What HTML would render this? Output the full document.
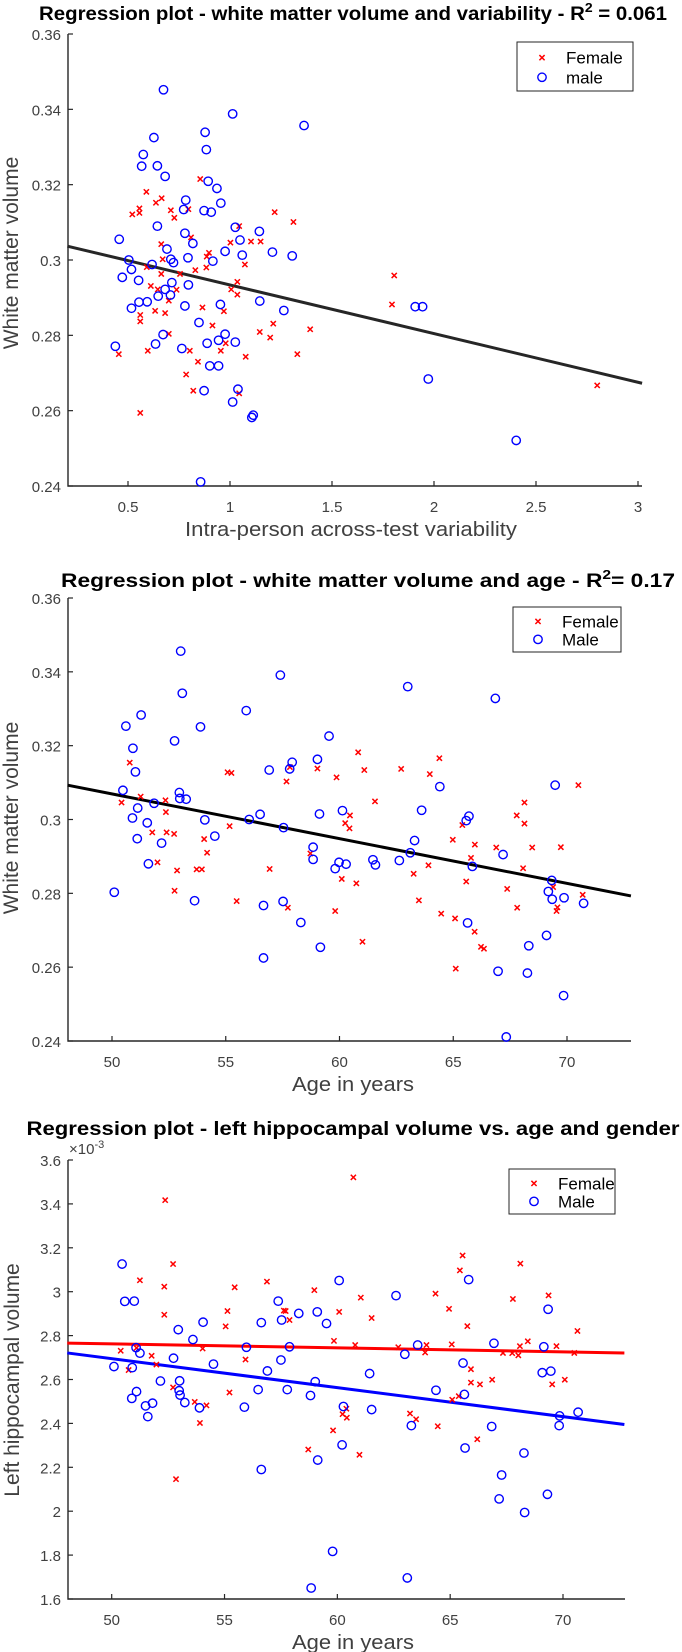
<!DOCTYPE html>
<html><head><meta charset="utf-8"><style>
html,body{margin:0;padding:0;background:#fff;}
svg{display:block;font-family:"Liberation Sans",Arial,sans-serif;}
</style></head><body>
<svg id="fig" width="682" height="1652" viewBox="0 0 682 1652" xmlns="http://www.w3.org/2000/svg"></svg>
<script>
// ---------- Plot 1 data: white matter volume vs variability ----------
const p1FemaleX=[0.854,0.590,0.665,0.637,1.219,0.556,0.521,0.556,0.710,0.796,0.727,1.311,1.045,0.809,0.663,1.002,1.103,1.150,0.897,0.886,0.670,1.073,0.592,0.830,0.884,0.755,0.663,1.036,0.612,0.646,0.738,1.006,1.036,0.700,1.805,1.794,0.865,0.970,0.633,0.682,0.560,0.560,0.914,1.212,1.146,1.393,0.700,1.197,0.979,0.955,0.597,0.803,1.330,0.455,1.077,0.843,0.785,0.820,1.045,0.560,2.800];
const p1FemaleY=[0.3215,0.3181,0.3164,0.3152,0.3127,0.3137,0.3121,0.3125,0.3132,0.3135,0.3112,0.3101,0.3090,0.3060,0.3042,0.3046,0.3049,0.3049,0.3019,0.3009,0.3002,0.2988,0.2981,0.2973,0.2980,0.2963,0.2963,0.2942,0.2931,0.2922,0.2921,0.2922,0.2908,0.2892,0.2959,0.2882,0.2874,0.2864,0.2865,0.2859,0.2854,0.2837,0.2826,0.2831,0.2809,0.2816,0.2804,0.2794,0.2779,0.2759,0.2759,0.2759,0.2750,0.2750,0.2743,0.2730,0.2696,0.2653,0.2646,0.2594,0.2667];
const p1MaleX=[0.674,1.013,1.363,0.627,0.878,0.884,0.575,0.567,0.644,0.682,0.893,0.936,0.783,0.955,0.773,0.873,0.908,0.644,1.026,1.144,0.457,0.779,0.818,1.049,1.208,1.305,0.976,1.060,0.691,0.504,0.710,0.723,0.794,0.916,0.618,0.517,0.472,0.552,0.715,0.796,0.682,0.648,0.708,0.517,0.554,0.594,0.779,0.953,1.146,1.264,1.908,1.944,0.848,0.976,0.672,0.635,0.888,1.026,0.944,0.438,0.764,0.901,0.944,1.972,0.873,1.039,1.013,1.114,1.107,2.403,0.856];
const p1MaleY=[0.3452,0.3388,0.3357,0.3325,0.3339,0.3293,0.3280,0.3249,0.3250,0.3222,0.3209,0.3190,0.3159,0.3151,0.3134,0.3131,0.3127,0.3090,0.3087,0.3076,0.3055,0.3071,0.3044,0.3053,0.3021,0.3011,0.3023,0.3013,0.3029,0.3000,0.3002,0.2993,0.3006,0.2997,0.2988,0.2975,0.2954,0.2946,0.2940,0.2934,0.2922,0.2904,0.2907,0.2872,0.2888,0.2889,0.2878,0.2882,0.2891,0.2866,0.2876,0.2876,0.2834,0.2803,0.2802,0.2777,0.2779,0.2782,0.2787,0.2771,0.2765,0.2719,0.2719,0.2684,0.2653,0.2657,0.2623,0.2588,0.2582,0.2521,0.2411];
const p1Fit=[0.3063,-0.01292];
const p1XTicks=[0.5,1,1.5,2,2.5,3];
const p1XTickLabels=["0.5","1","1.5","2","2.5","3"];
const p1YTicks=[0.24,0.26,0.28,0.30,0.32,0.34,0.36];
const p1YTickLabels=["0.24","0.26","0.28","0.3","0.32","0.34","0.36"];

// ---------- Plot 2 data ----------
const p2FemaleX=[50.78,60.82,64.39,55.08,55.25,61.09,62.71,59.03,59.87,63.97,57.67,57.82,70.50,50.42,51.26,52.35,61.56,68.13,52.37,67.79,60.46,60.25,60.44,68.13,65.40,55.17,51.77,52.40,52.73,54.05,64.98,65.95,66.89,68.47,69.73,54.18,58.72,65.78,52.00,52.86,53.72,53.95,56.93,63.91,68.07,63.26,60.10,60.74,65.57,69.39,52.75,67.37,70.69,55.48,63.49,57.73,67.81,69.58,69.54,59.81,64.47,65.08,65.94,66.22,66.35,61.01,65.11];
const p2FemaleY=[0.3154,0.3182,0.3166,0.3128,0.3126,0.3134,0.3137,0.3138,0.3114,0.3123,0.3103,0.3142,0.3093,0.3046,0.3062,0.3052,0.3049,0.3046,0.3020,0.3011,0.3011,0.2990,0.2976,0.2989,0.2985,0.2982,0.2965,0.2965,0.2961,0.2947,0.2945,0.2932,0.2924,0.2924,0.2925,0.2910,0.2908,0.2896,0.2884,0.2862,0.2865,0.2865,0.2866,0.2876,0.2868,0.2853,0.2839,0.2827,0.2832,0.2817,0.2807,0.2812,0.2796,0.2779,0.2781,0.2761,0.2761,0.2762,0.2752,0.2752,0.2745,0.2732,0.2696,0.2655,0.2650,0.2669,0.2596];
const p2MaleX=[53.02,57.40,63.00,53.09,66.85,55.90,51.28,53.89,50.61,52.75,59.54,50.92,59.03,57.92,56.91,57.81,51.03,50.48,52.96,52.98,53.26,64.41,69.48,63.61,60.13,59.12,56.51,65.69,65.57,51.13,51.85,54.08,56.03,50.90,51.55,57.54,63.30,54.52,51.11,52.18,58.84,63.11,67.19,58.84,61.47,62.63,59.98,60.29,61.58,59.81,65.84,51.60,69.33,50.10,69.18,69.35,69.87,70.73,53.63,57.52,56.66,58.30,65.63,69.10,68.32,59.16,56.66,66.97,68.26,69.85,67.33];
const p2MaleY=[0.3456,0.3391,0.3360,0.3342,0.3328,0.3295,0.3283,0.3251,0.3253,0.3213,0.3226,0.3193,0.3163,0.3155,0.3134,0.3137,0.3129,0.3079,0.3073,0.3057,0.3055,0.3089,0.3093,0.3025,0.3024,0.3015,0.3014,0.3009,0.2997,0.3031,0.3044,0.2999,0.3000,0.3004,0.2991,0.2978,0.2943,0.2955,0.2948,0.2936,0.2925,0.2910,0.2905,0.2892,0.2891,0.2889,0.2884,0.2879,0.2877,0.2867,0.2873,0.2880,0.2835,0.2803,0.2805,0.2784,0.2788,0.2773,0.2780,0.2778,0.2767,0.2721,0.2720,0.2686,0.2658,0.2654,0.2625,0.2589,0.2584,0.2523,0.2411];
const p2Fit=[0.3093,-0.001212,48.05];
const ageTicks=[50,55,60,65,70];
const ageTickLabels=["50","55","60","65","70"];
const p2YTicks=[0.24,0.26,0.28,0.30,0.32,0.34,0.36];
const p2YTickLabels=["0.24","0.26","0.28","0.3","0.32","0.34","0.36"];

// ---------- Plot 3 data (x1e-3) ----------
const p3FemaleX=[60.71,52.37,65.55,52.72,68.11,65.43,51.25,56.88,52.33,55.45,69.36,64.35,58.98,61.04,67.78,64.95,55.13,57.63,57.71,60.08,52.33,61.52,57.88,55.05,65.76,70.64,59.85,68.44,69.71,60.79,62.70,65.07,63.95,68.09,50.40,54.03,63.89,67.34,67.75,68.02,70.50,51.77,51.10,55.93,51.98,50.75,65.92,70.08,66.86,65.92,66.32,69.52,52.72,55.22,65.38,65.09,53.68,54.20,60.23,60.40,60.42,63.22,63.49,64.45,53.91,59.81,66.20,58.71,60.98,52.85];
const p3FemaleY=[3.521,3.417,3.165,3.126,3.128,3.097,3.052,3.046,3.023,3.020,2.983,2.991,3.007,2.973,2.967,2.922,2.912,2.914,2.912,2.908,2.895,2.880,2.871,2.842,2.843,2.821,2.776,2.774,2.752,2.757,2.747,2.760,2.757,2.752,2.731,2.741,2.723,2.721,2.720,2.710,2.721,2.708,2.744,2.691,2.668,2.643,2.647,2.599,2.599,2.586,2.578,2.578,2.564,2.541,2.524,2.508,2.498,2.482,2.442,2.467,2.426,2.445,2.419,2.387,2.402,2.368,2.328,2.281,2.257,2.146];
const p3MaleX=[50.46,50.58,51.00,65.82,60.08,62.60,57.38,59.11,69.34,58.29,59.52,56.63,54.05,57.53,52.95,53.60,63.56,66.94,55.97,57.88,69.15,51.08,51.25,62.99,52.74,57.50,54.51,65.57,50.10,50.91,69.08,69.46,56.90,61.43,52.16,53.01,59.02,69.85,69.83,70.67,56.49,57.78,64.37,51.10,52.99,53.03,65.63,58.81,50.89,53.24,51.81,51.50,53.89,55.88,60.27,61.52,51.60,63.28,66.84,65.66,68.27,59.13,56.63,60.21,67.28,67.17,69.31,68.30,59.79,63.10,58.84];
const p3MaleY=[3.126,2.956,2.957,3.055,3.051,2.982,2.957,2.908,2.920,2.901,2.855,2.859,2.861,2.871,2.827,2.782,2.757,2.765,2.747,2.749,2.749,2.745,2.720,2.715,2.697,2.689,2.670,2.675,2.659,2.654,2.631,2.638,2.639,2.627,2.593,2.594,2.590,2.434,2.390,2.451,2.554,2.554,2.551,2.545,2.549,2.529,2.532,2.527,2.514,2.495,2.492,2.480,2.471,2.474,2.477,2.463,2.431,2.390,2.386,2.288,2.265,2.233,2.190,2.302,2.165,2.056,2.077,1.994,1.817,1.696,1.650];
const p3FemaleFit=[2.766,-0.001823,48.03];
const p3MaleFit=[2.721,-0.013204,48.03];
const p3YTicks=[1.6,1.8,2.0,2.2,2.4,2.6,2.8,3.0,3.2,3.4,3.6];
const p3YTickLabels=["1.6","1.8","2","2.2","2.4","2.6","2.8","3","3.2","3.4","3.6"];

const NS="http://www.w3.org/2000/svg";
const svg=document.getElementById('fig');
function mk(tag,attrs,parent){const e=document.createElementNS(NS,tag);for(const k in attrs)e.setAttribute(k,attrs[k]);(parent||svg).appendChild(e);return e;}
function lin(d0,d1,r0,r1){return v=>r0+(v-d0)*(r1-r0)/(d1-d0);}

function drawAxes(g,ax,xs,ys,xT,xL,yT,yL,name){
  const axis=mk('g',{},g);
  
  
  mk('path',{d:`M${ax.l} ${ax.t}V${ax.b}H${ax.r}`,fill:'none',stroke:'#262626','stroke-width':1.4},axis);
  xT.forEach((v,i)=>{const x=xs(v);
    mk('line',{x1:x,x2:x,y1:ax.b,y2:ax.b-5,stroke:'#262626','stroke-width':1.2},axis);
    const t=mk('text',{x:x,y:ax.b+26,'text-anchor':'middle','font-size':15,fill:'#404040'},axis);t.textContent=xL[i];
    
    
  });
  yT.forEach((v,i)=>{const y=ys(v);
    mk('line',{x1:ax.l,x2:ax.l+5,y1:y,y2:y,stroke:'#262626','stroke-width':1.2},axis);
    const t=mk('text',{x:ax.l-7,y:y+6,'text-anchor':'end','font-size':15,fill:'#404040'},axis);t.textContent=yL[i];
    
    
  });
}
function drawPoints(g,xsArr,ysArr,xs,ys,kind){
  xsArr.forEach((v,i)=>{const x=xs(v),y=ys(ysArr[i]);
    let e;
    if(kind==='x'){e=mk('path',{d:`M${x-2.6} ${y-2.6}L${x+2.6} ${y+2.6}M${x-2.6} ${y+2.6}L${x+2.6} ${y-2.6}`,stroke:'#ff0000','stroke-width':1.5,fill:'none'},g);
      }
    else{e=mk('circle',{cx:x,cy:y,r:4.2,stroke:'#0000ff','stroke-width':1.4,fill:'none'},g);
      }
    
  });
}
function text(g,str,attrs,name){const t=mk('text',attrs,g);t.textContent=str;
  
  return t;}
function legend(g,x0,y0,x1,y1,lab2){
  const lg=mk('g',{},g);
  
  
  mk('rect',{x:x0,y:y0,width:x1-x0,height:y1-y0,fill:'#fff',stroke:'#262626','stroke-width':1},lg);
  const h=(y1-y0);const cy1=y0+h*0.32,cy2=y0+h*0.72,mx=x0+25;
  drawPoints(lg,[0],[0],()=>mx,()=>cy1,'x');
  drawPoints(lg,[0],[0],()=>mx,()=>cy2,'o');
  text(lg,'Female',{x:x0+49,y:cy1+6,'font-size':17,fill:'#000'},'legend-entry-female');
  text(lg,lab2,{x:x0+49,y:cy2+6,'font-size':17,fill:'#000'},'legend-entry-male');
}

// ----- Plot 1 -----
(function(){
  const g=mk('g',{});
  const ax={l:68,r:642,t:34,b:486};
  const xs=lin(0.5,3,128,638), ys=lin(0.24,0.36,486,34);
  drawAxes(g,ax,xs,ys,p1XTicks,p1XTickLabels,p1YTicks,p1YTickLabels,'plot1');
  const xa=0.203,xb=3.02;
  const ln=mk('line',{x1:xs(xa),y1:ys(p1Fit[0]+p1Fit[1]*xa),x2:xs(xb),y2:ys(p1Fit[0]+p1Fit[1]*xb),stroke:'#262626','stroke-width':3},g);
  
  drawPoints(g,p1FemaleX,p1FemaleY,xs,ys,'x');
  drawPoints(g,p1MaleX,p1MaleY,xs,ys,'o');
  legend(g,517,42,633,91,'male');
  const t=text(g,'',{x:353,y:20,'text-anchor':'middle','font-size':19,'font-weight':'bold',fill:'#000',textLength:628,lengthAdjust:'spacingAndGlyphs'},'chart-title');
  t.innerHTML='Regression plot - white matter volume and variability - R<tspan dy="-8" font-size="13">2</tspan><tspan dy="8"> = 0.061</tspan>';
  text(g,'White matter volume',{x:0,y:0,transform:'translate(18,253) rotate(-90)','text-anchor':'middle','font-size':21,fill:'#404040'},'y-axis-title');
  text(g,'Intra-person across-test variability',{x:351,y:536,'text-anchor':'middle','font-size':20,fill:'#404040',textLength:332,lengthAdjust:'spacingAndGlyphs'},'x-axis-title');
})();

// ----- Plot 2 -----
(function(){
  const g=mk('g',{});
  const ax={l:68,r:631,t:598,b:1041};
  const xs=lin(50,70,112,567), ys=lin(0.24,0.36,1041,598);
  drawAxes(g,ax,xs,ys,ageTicks,ageTickLabels,p2YTicks,p2YTickLabels,'plot2');
  const xa=48.05,xb=72.81;
  const ln=mk('line',{x1:xs(xa),y1:ys(p2Fit[0]+p2Fit[1]*(xa-p2Fit[2])),x2:xs(xb),y2:ys(p2Fit[0]+p2Fit[1]*(xb-p2Fit[2])),stroke:'#000','stroke-width':3},g);
  
  drawPoints(g,p2FemaleX,p2FemaleY,xs,ys,'x');
  drawPoints(g,p2MaleX,p2MaleY,xs,ys,'o');
  legend(g,513,607,621,652,'Male');
  const t=text(g,'',{x:368,y:587,'text-anchor':'middle','font-size':19,'font-weight':'bold',fill:'#000',textLength:614,lengthAdjust:'spacingAndGlyphs'},'chart-title');
  t.innerHTML='Regression plot - white matter volume and age - R<tspan dy="-8" font-size="13">2</tspan><tspan dy="8">= 0.17</tspan>';
  text(g,'White matter volume',{x:0,y:0,transform:'translate(18,818) rotate(-90)','text-anchor':'middle','font-size':21,fill:'#404040'},'y-axis-title');
  text(g,'Age in years',{x:353,y:1091,'text-anchor':'middle','font-size':20,fill:'#404040',textLength:122,lengthAdjust:'spacingAndGlyphs'},'x-axis-title');
})();

// ----- Plot 3 -----
(function(){
  const g=mk('g',{});
  const ax={l:68,r:625,t:1160,b:1599};
  const xs=lin(50,70,111.7,563), ys=lin(1.6,3.6,1599,1160);
  drawAxes(g,ax,xs,ys,ageTicks,ageTickLabels,p3YTicks,p3YTickLabels,'plot3');
  const xa=48.03,xb=72.72;
  const l1=mk('line',{x1:xs(xa),y1:ys(p3FemaleFit[0]+p3FemaleFit[1]*(xa-p3FemaleFit[2])),x2:xs(xb),y2:ys(p3FemaleFit[0]+p3FemaleFit[1]*(xb-p3FemaleFit[2])),stroke:'#ff0000','stroke-width':3},g);
  
  const l2=mk('line',{x1:xs(xa),y1:ys(p3MaleFit[0]+p3MaleFit[1]*(xa-p3MaleFit[2])),x2:xs(xb),y2:ys(p3MaleFit[0]+p3MaleFit[1]*(xb-p3MaleFit[2])),stroke:'#0000ff','stroke-width':3},g);
  
  drawPoints(g,p3FemaleX,p3FemaleY,xs,ys,'x');
  drawPoints(g,p3MaleX,p3MaleY,xs,ys,'o');
  legend(g,509,1169,615,1214,'Male');
  text(g,'Regression plot - left hippocampal volume vs. age and gender',{x:353,y:1135,'text-anchor':'middle','font-size':19,'font-weight':'bold',fill:'#000',textLength:653,lengthAdjust:'spacingAndGlyphs'},'chart-title');
  const e=text(g,'',{x:69,y:1154,'font-size':15,fill:'#404040'},'y-axis-exponent');
  e.innerHTML='×10<tspan dy="-6" font-size="11">-3</tspan>';
  text(g,'Left hippocampal volume',{x:0,y:0,transform:'translate(19,1380) rotate(-90)','text-anchor':'middle','font-size':21,fill:'#404040'},'y-axis-title');
  text(g,'Age in years',{x:353,y:1649,'text-anchor':'middle','font-size':20,fill:'#404040',textLength:122,lengthAdjust:'spacingAndGlyphs'},'x-axis-title');
})();
</script>
</body></html>
